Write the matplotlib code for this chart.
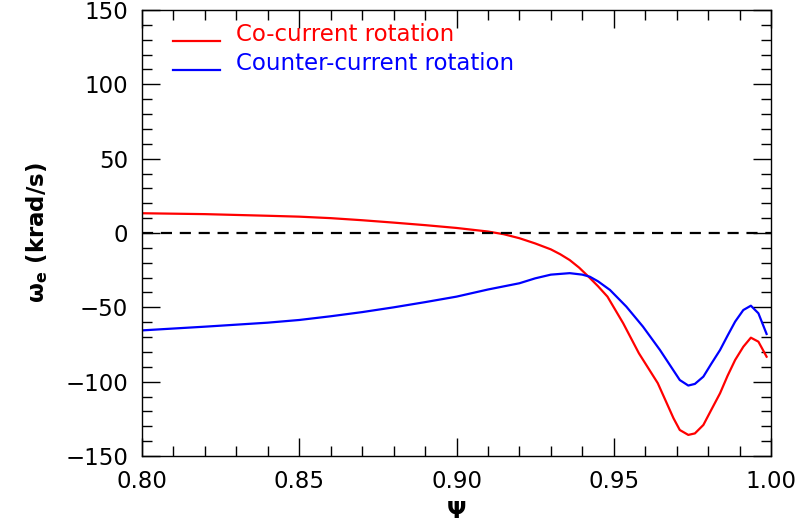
import numpy as np
import matplotlib.pyplot as plt
from matplotlib.ticker import MultipleLocator
from matplotlib.lines import Line2D

# Psi values and rotation frequency (krad/s)
psi_co = [0.800, 0.820, 0.840, 0.850, 0.860, 0.870, 0.880, 0.890, 0.900, 0.910,
          0.915, 0.920, 0.925, 0.930, 0.933, 0.936, 0.939, 0.942, 0.945, 0.948,
          0.953, 0.958, 0.964, 0.969, 0.971, 0.9737, 0.9758, 0.9785, 0.981,
          0.9838, 0.9862, 0.9886, 0.9912, 0.9936, 0.996, 0.9986]
w_co = [13.3, 12.7, 11.6, 11.0, 10.0, 8.6, 7.0, 5.3, 3.4, 1.0,
        -0.8, -3.5, -7.0, -11.0, -14.3, -18.2, -23.3, -29.4, -35.8, -42.8,
        -60.7, -80.9, -101.0, -124.6, -132.5, -135.8, -134.8, -129.1, -119.0,
        -107.8, -96.0, -85.4, -76.5, -70.4, -73.1, -83.2]

psi_ctr = [0.800, 0.820, 0.840, 0.850, 0.860, 0.870, 0.880, 0.890, 0.900, 0.910,
           0.920, 0.925, 0.930, 0.936, 0.940, 0.9424, 0.945, 0.9488, 0.954,
           0.9593, 0.9647, 0.971, 0.9737, 0.9758, 0.9785, 0.981, 0.9838,
           0.9862, 0.9886, 0.9912, 0.9936, 0.996, 0.9986]
w_ctr = [-65.5, -63.0, -60.3, -58.5, -56.0, -53.2, -50.0, -46.5, -42.8, -38.0,
         -33.8, -30.5, -28.0, -27.0, -28.0, -29.4, -32.5, -38.3, -49.5,
         -63.0, -78.7, -98.9, -102.6, -101.5, -96.6, -88.0, -78.7,
         -69.0, -59.6, -51.8, -48.9, -54.0, -67.9]

labels = ['Co-current rotation', 'Counter-current rotation']
colors = ['red', 'blue']

plt.rcParams['font.family'] = 'DejaVu Sans'
plt.rcParams['font.size'] = 16.5

fig = plt.figure(figsize=(8.12, 5.27), dpi=100)
ax = fig.add_axes([0.1749, 0.1347, 0.9495 - 0.1749, 0.981 - 0.1347])

ax.plot(psi_co, w_co, color=colors[0], lw=1.6)
ax.plot(psi_ctr, w_ctr, color=colors[1], lw=1.6)
ax.axhline(0, color='black', lw=1.6, ls=(0, (5, 3.5)))

ax.set_xlim(0.80, 1.00)
ax.set_ylim(-150, 150)
ax.xaxis.set_major_locator(MultipleLocator(0.05))
ax.xaxis.set_minor_locator(MultipleLocator(0.01))
ax.yaxis.set_major_locator(MultipleLocator(50))
ax.yaxis.set_minor_locator(MultipleLocator(10))
ax.xaxis.set_major_formatter(plt.FuncFormatter(lambda v, p: f'{v:.2f}'))
ax.tick_params(which='both', direction='in', top=True, right=True, width=1)
ax.tick_params(which='major', length=13, pad=10)
ax.tick_params(which='minor', length=7)
for s in ax.spines.values():
    s.set_linewidth(1)

ax.set_xlabel(r'$\mathbf{\Psi}$', labelpad=5)
ax.set_ylabel(r'$\mathbf{\omega_e}$ (krad/s)', fontweight='bold', labelpad=11)

# legend drawn by hand: line sits on the text baseline
for i, (lab, c) in enumerate(zip(labels, colors)):
    yb = 0.931 - i * 0.065
    ax.add_line(Line2D([0.05, 0.124], [yb, yb], transform=ax.transAxes,
                       color=c, lw=1.6))
    ax.text(0.15, yb, lab, color=c, transform=ax.transAxes,
            va='baseline', ha='left')

fig.savefig('out.png', dpi=100)
